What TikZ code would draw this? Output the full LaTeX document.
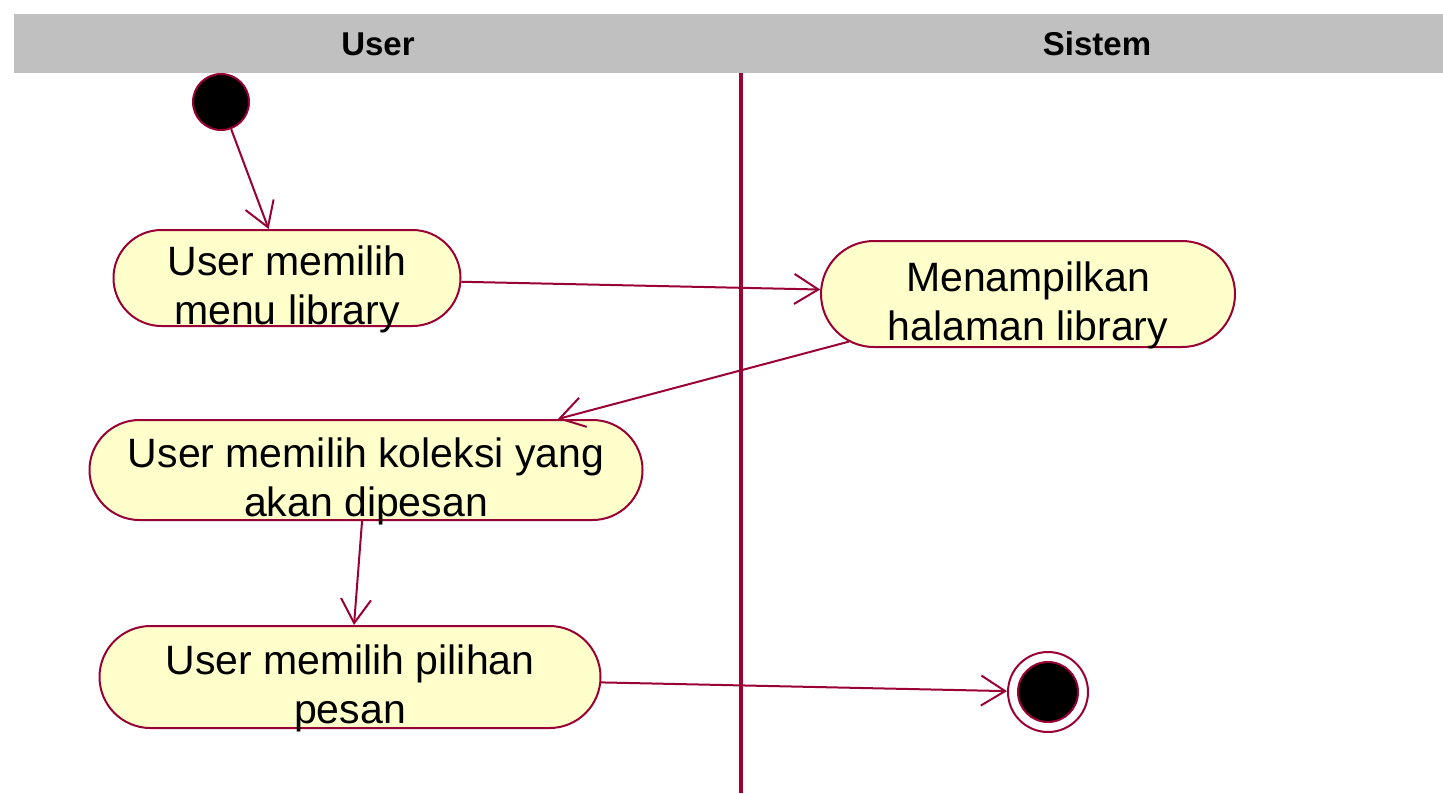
\documentclass[tikz,border=0pt]{standalone}
\usepackage{fontspec}
\setmainfont{Liberation Sans}
\usepackage{tikz}
\usetikzlibrary{arrows.meta,shapes.misc}
\definecolor{umlred}{RGB}{153,0,51}
\definecolor{umlfill}{RGB}{255,255,204}
\definecolor{lanegray}{RGB}{192,192,192}
\tikzset{
  activity/.style={rounded rectangle, draw=umlred, fill=umlfill, line width=1pt,
    align=center, inner sep=0pt, text height=46pt, text depth=0pt, font=\fontsize{20.5}{24.5}\selectfont},
  flow/.style={draw=umlred, line width=1pt, -{Straight Barb[length=12pt,width=15pt]}},
  lanetitle/.style={font=\bfseries\fontsize{16.5}{18}\selectfont}
}
\begin{document}
\begin{tikzpicture}[x=0.5pt,y=-0.5pt]
  \useasboundingbox (0,0) rectangle (1443,793);
  \fill[lanegray] (14,14) rectangle (1443,73);
  \node[lanetitle] (user) at (378,44) {User};
  \node[lanetitle] (sistem) at (1097,44) {Sistem};
  \draw[umlred, line width=2pt] (741,73) -- (741,793);

  \node[circle, draw=umlred, fill=black, line width=1pt, minimum size=28pt, inner sep=0pt] (start) at (221,102) {};
  \node[activity, minimum width=173.5pt, minimum height=48pt] (pilihmenu) at (287,278) {User memilih\\menu library};
  \node[activity, minimum width=207pt, minimum height=53pt] (tampil) at (1028,294) {Menampilkan\\halaman library};
  \node[activity, minimum width=276.5pt, minimum height=50pt] (pilihkoleksi) at (366,470) {User memilih koleksi yang\\akan dipesan};
  \node[activity, minimum width=250.5pt, minimum height=51pt] (pilihpesan) at (350,677) {User memilih pilihan\\pesan};
  \node[circle, draw=umlred, line width=1pt, minimum size=40pt, inner sep=0pt] (end) at (1048,692) {};
  \node[circle, draw=umlred, fill=black, line width=1pt, minimum size=30pt, inner sep=0pt] (enddot) at (end) {};

  \path[flow]
  (start) edge (pilihmenu)
  (pilihmenu) edge (tampil)
  (tampil) edge (pilihkoleksi)
  (pilihkoleksi) edge (pilihpesan)
  (pilihpesan) edge (end)
;
\end{tikzpicture}
\end{document}
